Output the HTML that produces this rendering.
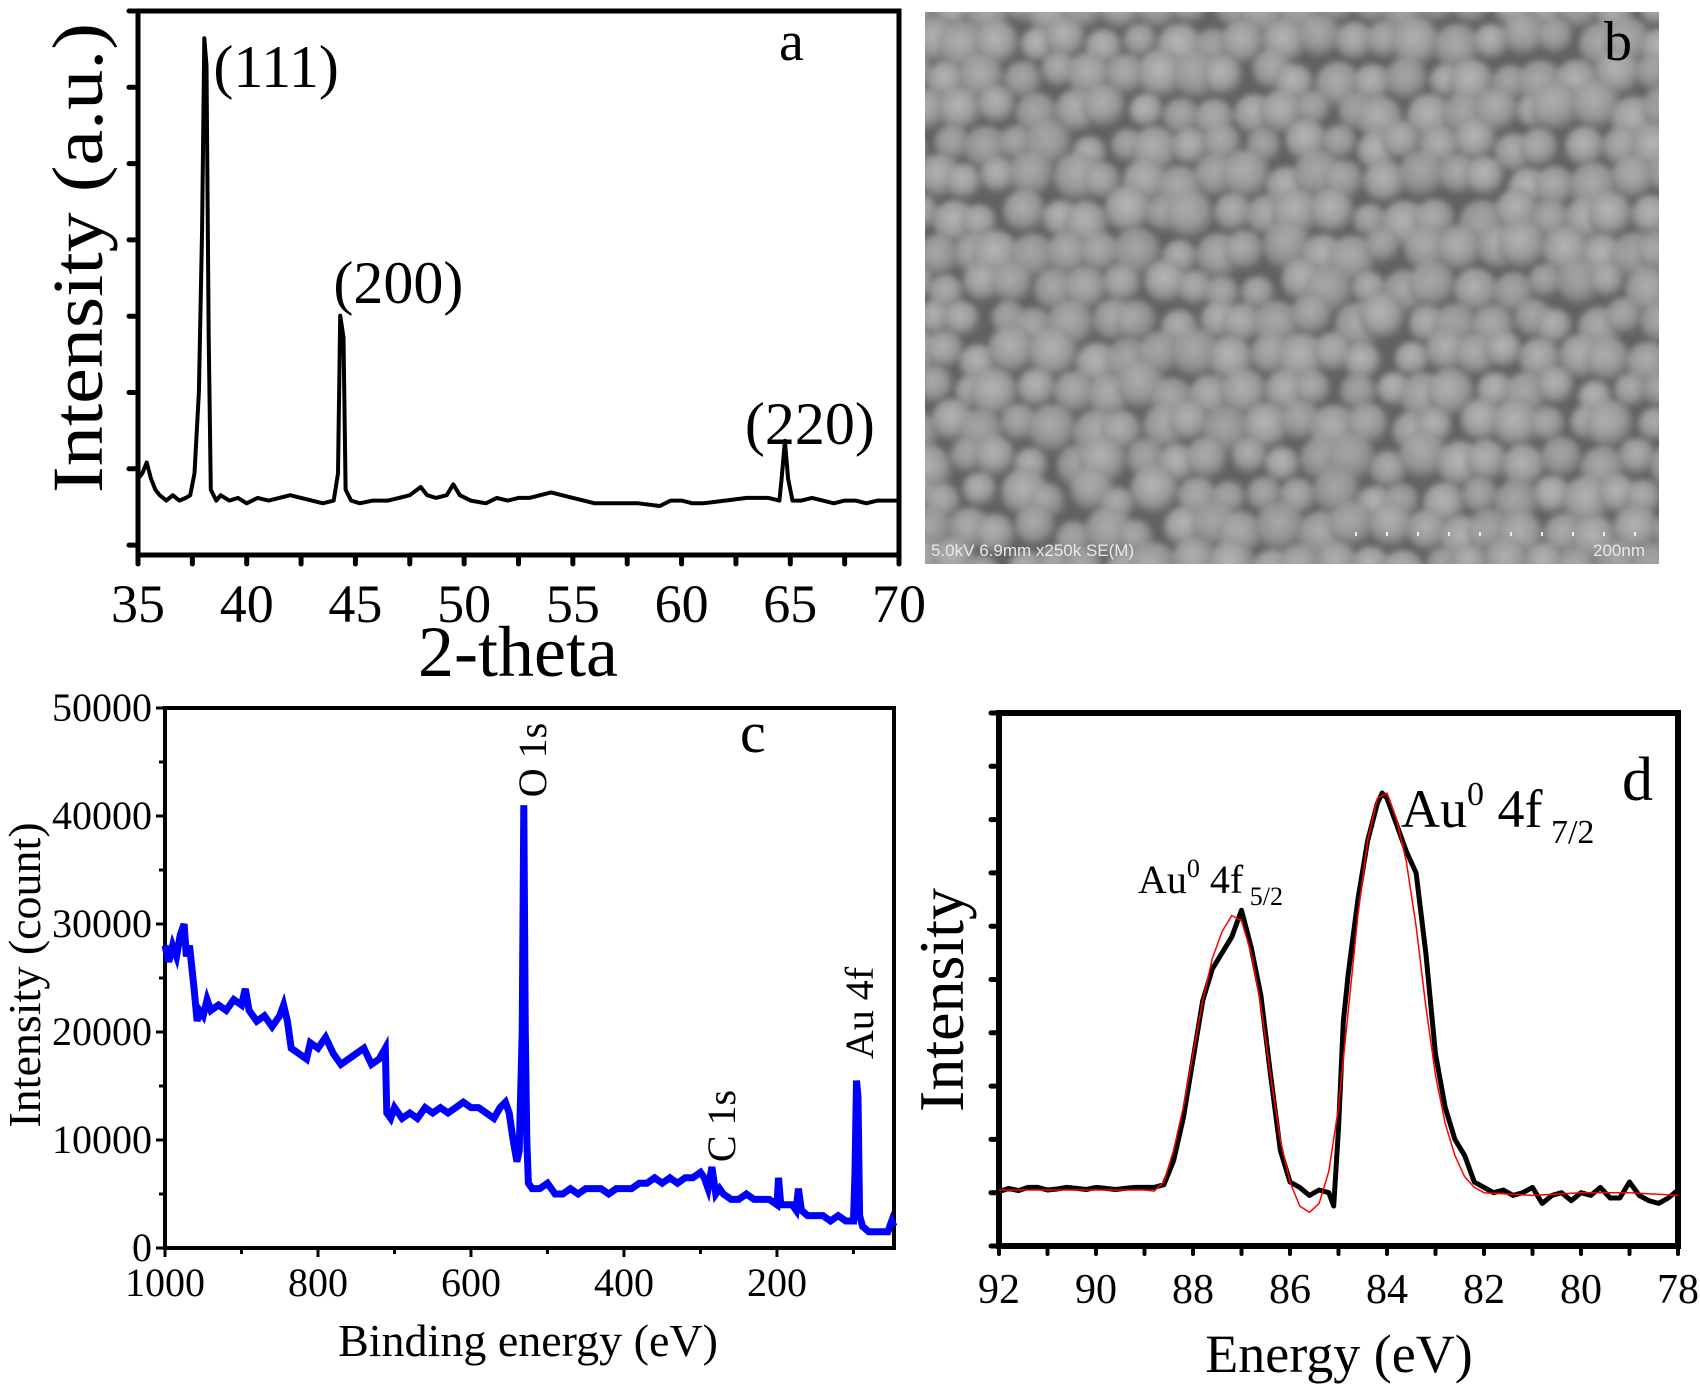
<!DOCTYPE html>
<html><head><meta charset="utf-8"><style>
html,body{margin:0;padding:0;background:#fff}
svg{display:block;font-family:"Liberation Serif",serif}
</style></head><body>
<svg id="fig" width="1700" height="1390" viewBox="0 0 1700 1390" xmlns="http://www.w3.org/2000/svg">
<defs>
<radialGradient id="blob" cx="45%" cy="40%" r="60%">
<stop offset="0" stop-color="#b8b8b8"/><stop offset="0.6" stop-color="#9c9c9c"/><stop offset="1" stop-color="#666"/>
</radialGradient>
<filter id="soft"><feGaussianBlur stdDeviation="3"/></filter>
</defs>
<g id="pa"></g>
<g id="pb"></g>
<g id="pc"></g>
<g id="pd"></g>
</svg>
<script>
// ---- Panel a data (2-theta, intensity a.u. 0-100)
const aTheta=[35.0,35.2,35.4,35.6,35.8,36.0,36.3,36.6,36.9,37.2,37.4,37.6,37.8,37.95,38.05,38.15,38.25,38.35,38.6,38.8,39.2,39.6,40.0,40.5,41,41.5,42,42.5,43,43.5,44.0,44.2,44.3,44.45,44.55,44.8,45.2,45.8,46.5,47,47.5,48,48.3,48.7,49.2,49.5,49.8,50.3,51,51.5,52,52.5,53,53.5,54,54.5,55,55.5,56,57,58,59,59.5,60,60.5,61,62,63,63.5,64,64.5,64.6,64.75,64.9,65.1,65.5,66,66.5,67,67.5,68,68.5,69,69.5,70];
const aInt=[14,15,17,14,12,11,10,11,10,10.5,11,15,30,60,95,90,40,12,10,11,10,10.5,9.5,10.5,10,10.5,11,10.5,10,9.5,10,15,44,40,12,10,9.5,10,10,10.5,11,12.5,11,10.5,11,13,11,10,9.5,10.5,10,10.5,10.5,11,11.5,11,10.5,10,9.5,9.5,9.5,9,10,10,9.5,9.5,10,10.5,10.5,10.5,10,14,21,14,10,10,10.5,10,9.5,10,10,9.5,10,10,10];
const aTicks=[35,40,45,50,55,60,65,70];
const aPeakLabels=["(111)","(200)","(220)"];
const aPeakPos=[38.1,44.4,64.75];
// ---- Panel c data (binding energy eV, counts)
const cEnergy=[1000,995,990,985,980,975,972,968,962,958,955,950,945,940,930,920,910,900,895,890,880,870,860,850,845,840,835,825,815,810,800,790,780,770,760,750,740,730,720,712,710,705,700,690,680,670,660,650,640,630,620,610,600,590,580,570,562,555,550,545,540,537,533,531,529,527,525,520,510,500,490,480,470,460,450,440,430,420,410,400,390,380,370,360,350,340,330,320,310,300,295,290,285,280,275,270,260,250,240,230,220,210,200,198,195,190,180,175,172,168,160,150,140,130,120,110,100,98,96,94,92,88,80,70,60,55,50,47];
const cCounts=[28000,26500,28000,27000,29000,30000,27000,28000,24000,21000,22000,21500,23000,22000,22500,22000,23000,22500,24000,22000,21000,21500,20500,21500,22500,21000,18500,18000,17500,19000,18500,19500,18000,17000,17500,18000,18500,17000,17500,18500,12500,12000,13000,12000,12500,12000,13000,12500,13000,12500,13000,13500,13000,13000,12500,12000,13000,13500,12500,10000,8000,9000,20000,41000,20000,10000,6000,5500,5500,6000,5000,5000,5500,5000,5500,5500,5500,5000,5500,5500,5500,6000,6000,6500,6000,6500,6000,6500,6500,7000,6500,5500,7500,5000,5500,5000,4500,4500,5000,4500,4500,4500,4000,6500,4000,4000,4000,3500,5500,3500,3000,3000,3000,2500,3000,2500,2500,7000,15500,14000,3000,2000,1500,1500,1500,1500,2500,2000];
const cXTicks=[1000,800,600,400,200];
const cYTicks=[0,10000,20000,30000,40000,50000];
// ---- Panel d data (energy eV, intensity a.u.)
const dEnergy=[92,91.8,91.6,91.4,91.2,91,90.8,90.6,90.4,90.2,90,89.8,89.6,89.4,89.2,89,88.8,88.6,88.4,88.2,88.0,87.8,87.6,87.4,87.2,87.0,86.8,86.6,86.4,86.2,86.0,85.8,85.6,85.4,85.2,85.1,85.0,84.9,84.8,84.6,84.4,84.2,84.1,84.0,83.8,83.6,83.4,83.2,83.0,82.8,82.6,82.4,82.2,82.0,81.8,81.6,81.4,81.2,81.0,80.8,80.6,80.4,80.2,80.0,79.8,79.6,79.4,79.2,79.0,78.8,78.6,78.4,78.2,78.0];
const dMeasured=[10.2,10.8,10.4,11,11,10.5,10.7,11,10.8,10.6,11,10.8,10.6,10.8,11,11,11,11.5,16,24,35,46,52,55,58,63,56,47,32,18,12,11,9.5,10.5,10,7.5,22,42,51,65,76,83,85,84,79,74,70,55,36,26,20,17,12,11,10,10.5,9.5,10,11,8,9.5,10,8.5,10,9.5,11,9,9,12,9.5,8.5,8,9,10.5];
const dFitEnergy=[92,90,89,88.8,88.6,88.4,88.2,88,87.8,87.6,87.4,87.2,87.0,86.8,86.6,86.4,86.2,86.0,85.8,85.6,85.4,85.2,85.0,84.8,84.6,84.4,84.2,84.0,83.8,83.6,83.4,83.2,83.0,82.8,82.6,82.4,82.2,82.0,81,80,79,78];
const dFit=[10.5,10.5,10.5,10.3,12,18,26,36,46,54,59,62,61,55,45,32,20,12,7.5,6.3,8,14,26,44,62,76,84,85,80,72,60,45,32,23,17,13,11,10,9.5,10,10,9.5];
const dXTicks=[92,90,88,86,84,82,80,78];

const NS="http://www.w3.org/2000/svg";
function mk(parent,tag,attrs,text){const e=document.createElementNS(NS,tag);for(const k in attrs)e.setAttribute(k,attrs[k]);if(text!==undefined)e.textContent=text;parent.appendChild(e);return e;}
function pathFrom(xs,ys,sx,sy){let d="";for(let i=0;i<xs.length;i++){d+=(i?"L":"M")+sx(xs[i]).toFixed(1)+","+sy(ys[i]).toFixed(1);}return d;}

// ===== Panel a =====
(function(){
const g=document.getElementById('pa');
const L=138,R=899,T=11,B=555;
const sx=v=>L+(v-35)/(70-35)*(R-L);
const sy=v=>B-v/100*(B-T);
let fr=mk(g,'rect',{x:L,y:T,width:R-L,height:B-T,fill:'none',stroke:'#000','stroke-width':5});


for(let v=35;v<=70;v+=2.5){let t=mk(g,'line',{x1:sx(v),x2:sx(v),y1:B,y2:B+9,stroke:'#000','stroke-width':5,'stroke-linecap':'round'});

}
for(let k=0;k<8;k++){const y=T+k*76.3;let t=mk(g,'line',{x1:L-9,x2:L,y1:y,y2:y,stroke:'#000','stroke-width':5,'stroke-linecap':'round'});

}
aTicks.forEach(v=>{let t=mk(g,'text',{x:sx(v),y:622,'font-size':54,'text-anchor':'middle'},String(v));

});
let xt=mk(g,'text',{x:518,y:676,'font-size':72,'text-anchor':'middle'},'2-theta');


let yt=mk(g,'text',{x:0,y:0,'font-size':72,'text-anchor':'middle',textLength:470,lengthAdjust:'spacingAndGlyphs',transform:'translate(102,258) rotate(-90)'},'Intensity (a.u.)');


let ln=mk(g,'path',{d:pathFrom(aTheta,aInt,sx,sy),fill:'none',stroke:'#000','stroke-width':4,'stroke-linejoin':'round'});


const lblY=[87,303,444];
const lblDx=[8,-9,-40];
aPeakLabels.forEach((s,i)=>{let t=mk(g,'text',{x:sx(aPeakPos[i])+lblDx[i],y:lblY[i],'font-size':60},s);

});
let pl=mk(g,'text',{x:779,y:60,'font-size':56},'a');


})();

// ===== Panel b (SEM texture) =====
(function(){
const g=document.getElementById('pb');
const L=925,T=12,W=734,H=552;
const cp=mk(g,'clipPath',{id:'semclip'});
mk(cp,'rect',{x:L,y:T,width:W,height:H});
let bg=mk(g,'rect',{x:L,y:T,width:W,height:H,fill:'#626262'});


const outer=mk(g,'g',{'clip-path':'url(#semclip)'});
const cg=mk(outer,'g',{filter:'url(#soft)'});
let s=12345;const rnd=()=>{s=(s*1103515245+12345)%2147483648;return s/2147483648;};
for(let row=0;row<17;row++){for(let col=0;col<22;col++){
const cx=L-10+col*35+(row%2)*17+(rnd()-0.5)*16;const cy=T-5+row*35+(rnd()-0.5)*16;const r=17+rnd()*8;
mk(cg,'circle',{cx:cx,cy:cy,r:r,fill:'url(#blob)',opacity:0.8+rnd()*0.2});}}
let cap=mk(g,'text',{x:L+6,y:T+H-8,'font-size':17,fill:'#e8e8e8','font-family':'Liberation Sans, sans-serif'},'5.0kV 6.9mm x250k SE(M)');


let sb=mk(g,'text',{x:1645,y:T+H-8,'font-size':17,fill:'#e8e8e8','text-anchor':'end','font-family':'Liberation Sans, sans-serif'},'200nm');


for(let i=0;i<10;i++){mk(g,'rect',{x:1355+i*31,y:T+H-32,width:2,height:4,fill:'#eee'});}
let pl=mk(g,'text',{x:1604,y:60,'font-size':56},'b');


})();

// ===== Panel c =====
(function(){
const g=document.getElementById('pc');
const L=165,R=894,T=708,B=1248;
const sx=v=>L+(1000-v)/(1000-47)*(R-L);
const sy=v=>B-v/50000*(B-T);
let fr=mk(g,'rect',{x:L,y:T,width:R-L,height:B-T,fill:'none',stroke:'#000','stroke-width':4});


for(let v=1000;v>=100;v-=100){let t=mk(g,'line',{x1:sx(v),x2:sx(v),y1:B,y2:B+(v%200===0?9:6),stroke:'#000','stroke-width':3});

}
for(let v=0;v<=50000;v+=5000){let t=mk(g,'line',{x1:L-(v%10000===0?9:6),x2:L,y1:sy(v),y2:sy(v),stroke:'#000','stroke-width':3});

}
cXTicks.forEach(v=>{let t=mk(g,'text',{x:sx(v),y:1296,'font-size':40,'text-anchor':'middle'},String(v));

});
cYTicks.forEach(v=>{let t=mk(g,'text',{x:152,y:sy(v)+13,'font-size':40,'text-anchor':'end'},String(v));

});
let xt=mk(g,'text',{x:528,y:1356,'font-size':46,'text-anchor':'middle'},'Binding energy (eV)');


let yt=mk(g,'text',{x:0,y:0,'font-size':46,'text-anchor':'middle',transform:'translate(40,975) rotate(-90)'},'Intensity (count)');


let ln=mk(g,'path',{d:pathFrom(cEnergy,cCounts,sx,sy),fill:'none',stroke:'#0000ff','stroke-width':7,'stroke-linejoin':'miter'});


const labs=[["O 1s",546,760],["C 1s",735,1126],["Au 4f",873,1013]];
labs.forEach(a=>{let t=mk(g,'text',{x:0,y:0,'font-size':40,'text-anchor':'middle',transform:`translate(${a[1]},${a[2]}) rotate(-90)`},a[0]);

});
let pl=mk(g,'text',{x:740,y:752,'font-size':58},'c');


})();

// ===== Panel d =====
(function(){
const g=document.getElementById('pd');
const L=999,R=1678,T=713,B=1246;
const sx=v=>L+(92-v)/(92-78)*(R-L);
const sy=v=>B-v/100*(B-T);
let fr=mk(g,'rect',{x:L,y:T,width:R-L,height:B-T,fill:'none',stroke:'#000','stroke-width':6});


for(let v=92;v>=78;v-=1){let t=mk(g,'line',{x1:sx(v),x2:sx(v),y1:B,y2:B+8,stroke:'#000','stroke-width':4,'stroke-linecap':'round'});

}
for(let k=0;k<11;k++){const y=T+k*53.3;let t=mk(g,'line',{x1:L-8,x2:L,y1:y,y2:y,stroke:'#000','stroke-width':5,'stroke-linecap':'round'});

}
dXTicks.forEach(v=>{let t=mk(g,'text',{x:sx(v),y:1303,'font-size':42,'text-anchor':'middle'},String(v));

});
let xt=mk(g,'text',{x:1339,y:1372,'font-size':54,'text-anchor':'middle'},'Energy (eV)');


let yt=mk(g,'text',{x:0,y:0,'font-size':64,'text-anchor':'middle',transform:'translate(963,1000) rotate(-90)'},'Intensity');


let ln=mk(g,'path',{d:pathFrom(dEnergy,dMeasured,sx,sy),fill:'none',stroke:'#000','stroke-width':5,'stroke-linejoin':'round'});


let fl=mk(g,'path',{d:pathFrom(dFitEnergy,dFit,sx,sy),fill:'none',stroke:'#ff0000','stroke-width':1.5,'stroke-linejoin':'round'});


let l1=mk(g,'text',{x:1138,y:893,'font-size':40});


mk(l1,'tspan',{},'Au');mk(l1,'tspan',{dy:-16,'font-size':26},'0');mk(l1,'tspan',{dy:16},' 4f');mk(l1,'tspan',{dy:12,'font-size':26},' 5/2');
let l2=mk(g,'text',{x:1401,y:827,'font-size':54});


mk(l2,'tspan',{},'Au');mk(l2,'tspan',{dy:-22,'font-size':34},'0');mk(l2,'tspan',{dy:22},' 4f');mk(l2,'tspan',{dy:16,'font-size':34},' 7/2');
let pl=mk(g,'text',{x:1622,y:800,'font-size':62},'d');


})();
</script>
</body></html>
